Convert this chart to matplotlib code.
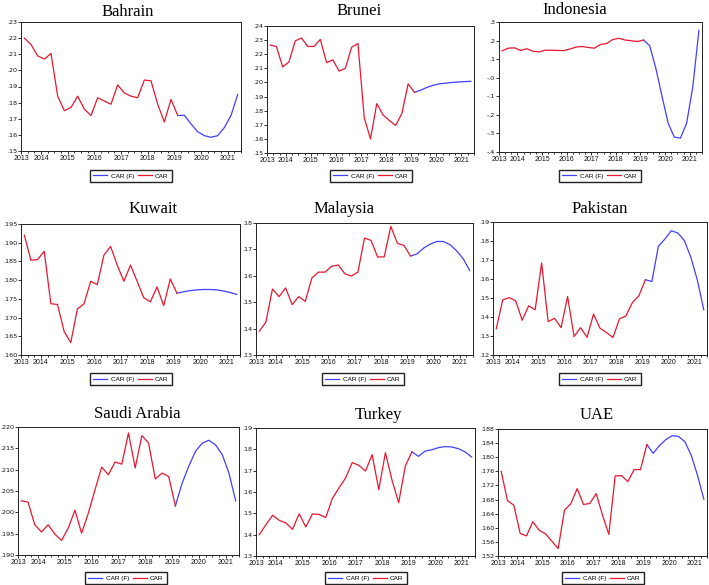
import numpy as np
import matplotlib
matplotlib.use("Agg")
import matplotlib.pyplot as plt
from matplotlib.lines import Line2D
from matplotlib.ticker import FixedLocator, FuncFormatter

# quarterly CAR, 2013Q2 .. 2021Q2 ; actual up to 2019Q1, forecast from 2019Q1 on
years = [2013, 2014, 2015, 2016, 2017, 2018, 2019, 2020, 2021]

car_bahrain = [.220, .216, .209, .207, .2105, .184, .175, .177, .184, .176, .172, .183,
               .181, .179, .191, .186, .184, .183, .194, .1935, .179, .168, .182, .172]
carf_bahrain = [.172, .1722, .1668, .162, .1595, .1585, .1595, .1645, .172, .185]

car_brunei = [.2265, .2255, .211, .2145, .2295, .2315, .2255, .2255, .2305, .214, .216, .208,
              .210, .225, .2275, .175, .160, .185, .177, .173, .1695, .178, .199, .193]
carf_brunei = [.193, .1945, .1965, .198, .199, .1995, .200, .2003, .2006, .2008]

car_indonesia = [.145, .159, .161, .147, .156, .143, .139, .148, .148, .147, .146, .154,
                 .165, .168, .163, .159, .179, .184, .206, .212, .203, .199, .195, .203]
carf_indonesia = [.203, .172, .05, -.10, -.245, -.32, -.325, -.245, -.05, .255]

car_kuwait = [.1920, .1853, .1855, .1877, .1737, .1735, .1663, .1633, .1723, .1737, .1797, .1788,
              .1867, .1890, .1840, .1797, .1840, .1797, .1753, .1742, .1782, .1732, .1803, .1765]
carf_kuwait = [.1765, .1769, .1772, .1774, .1775, .1775, .1774, .1771, .1767, .1762]

car_malaysia = [.139, .1424, .155, .1521, .1554, .1491, .1521, .1503, .1592, .1614, .1614, .1636,
                .1641, .1608, .1599, .1614, .1743, .1734, .1671, .1672, .1787, .1723, .1715, .1675]
carf_malaysia = [.1675, .1683, .1705, .172, .173, .173, .1718, .1695, .1665, .162]

car_pakistan = [.1338, .149, .1502, .1485, .1383, .1459, .1438, .1684, .1376, .1393, .1344, .1508,
                .1297, .1344, .1293, .1415, .1341, .1318, .1292, .139, .1406, .1476, .1512, .1596]
carf_pakistan = [.1596, .1587, .1772, .181, .1854, .1842, .1803, .1715, .1596, .1438]

car_saudi = [.2027, .2024, .1971, .1954, .1971, .1949, .1934, .1963, .2005, .1951, .1998, .2053,
             .2106, .2088, .2118, .2113, .2186, .2104, .2180, .2162, .2078, .2092, .2084, .2015]
carf_saudi = [.2015, .2068, .2108, .2143, .2162, .2169, .2158, .2135, .2092, .2027]

car_turkey = [.140, .1447, .1491, .1467, .1455, .1425, .1498, .1436, .1497, .1495, .148, .1569,
              .1619, .1666, .1738, .1725, .1698, .1775, .1611, .1784, .1655, .155, .1722, .1788]
carf_turkey = [.1788, .1767, .1792, .1798, .1808, .1813, .1811, .1803, .1788, .1764]

car_uae = [.176, .1677, .1664, .1584, .1577, .1617, .1593, .1583, .1562, .1541, .165, .1668,
           .1711, .1666, .1669, .1697, .1636, .1581, .1747, .1748, .1731, .1765, .1765, .1836]
carf_uae = [.1836, .1811, .1833, .185, .1861, .1859, .1844, .1806, .1749, .1681]

RED = "#e8172f"
BLUE = "#4040ff"
W, H = 709, 585

# name, actual, forecast, y range, y step, decimals, axes box px (l, t, r, b), title xy px, legend xy px
panels = [
    ("Bahrain", car_bahrain, carf_bahrain, (.15, .23), .01, 2, (21, 22, 241, 151), (128, 12), (131, 176)),
    ("Brunei", car_brunei, carf_brunei, (.15, .24), .01, 2, (267, 26, 474, 153), (359, 11), (371, 176)),
    ("Indonesia", car_indonesia, carf_indonesia, (-.4, .3), .1, 1, (499, 22, 702, 152), (575, 10), (600, 176)),
    ("Kuwait", car_kuwait, carf_kuwait, (.160, .195), .005, 3, (21, 224, 240, 355), (153, 209), (131, 379)),
    ("Malaysia", car_malaysia, carf_malaysia, (.13, .18), .01, 2, (256, 223, 473, 355), (344, 209), (363, 379)),
    ("Pakistan", car_pakistan, carf_pakistan, (.12, .19), .01, 2, (493, 222, 707, 355), (600, 209), (600, 379)),
    ("Saudi Arabia", car_saudi, carf_saudi, (.190, .220), .005, 3, (18, 427, 239, 555), (137, 414), (126, 578)),
    ("Turkey", car_turkey, carf_turkey, (.13, .19), .01, 2, (256, 428, 475, 556), (379, 415), (366, 578)),
    ("UAE", car_uae, carf_uae, (.152, .188), .004, 3, (498, 429, 707, 556), (597, 415), (603, 578)),
]

fig = plt.figure(figsize=(W / 100, H / 100), dpi=100)
fig.patch.set_facecolor("white")


def strip_zero(dec):
    def f(v, pos):
        s = f"{v:.{dec}f}"
        if s.startswith("-0."):
            return "-" + s[2:]
        if s.startswith("0."):
            return s[1:]
        return s
    return f


for name, act, fc, (y0, y1), step, dec, (l, t, r, b), (tx, ty), (lx, ly) in panels:
    ax = fig.add_axes([l / W, 1 - b / H, (r - l) / W, (b - t) / H])
    n_act = len(act)
    xa = np.arange(n_act)
    xf = np.arange(n_act - 1, n_act - 1 + len(fc))
    ax.plot(xf, fc, color=BLUE, lw=0.9)
    ax.plot(xa, act, color=RED, lw=0.9)
    ax.set_xlim(-0.5, xf[-1] + 0.5)
    ax.set_ylim(y0, y1)

    yt = np.round(np.arange(y0, y1 + step / 2, step), 4)
    ax.yaxis.set_major_locator(FixedLocator(yt))
    ax.yaxis.set_major_formatter(FuncFormatter(strip_zero(dec)))

    ypos = [-0.5] + [2.5 + 4 * k for k in range(len(years) - 1)]
    ax.set_xticks(ypos)
    ax.set_xticklabels([str(y) for y in years])
    ax.set_xticks(np.arange(-0.5, xf[-1] + 1, 1), minor=True)

    ax.tick_params(axis="both", which="both", direction="out", length=2, width=0.6,
                   labelsize=5.0, pad=1.0, colors="#111111")
    ax.tick_params(axis="x", which="minor", length=1.5)
    ax.tick_params(axis="y", labelsize=4.6, pad=0.8)
    for lab in ax.get_xticklabels():
        lab.set_family("Liberation Sans")
    for lab in ax.get_yticklabels():
        lab.set_family("DejaVu Sans")
    for sp in ax.spines.values():
        sp.set_linewidth(0.7)
        sp.set_color("#222222")

    fig.text(tx / W, 1 - ty / H, name, ha="center", va="center",
             family="Liberation Serif", fontsize=12)

    handles = [Line2D([], [], color=BLUE, lw=0.9), Line2D([], [], color=RED, lw=0.9)]
    fig.legend(handles, ["CAR (F)", "CAR"], loc="center", ncol=2,
               bbox_to_anchor=(lx / W, 1 - ly / H),
               prop={"family": "Liberation Sans", "size": 4.6},
               frameon=True, fancybox=False, edgecolor="#222222", framealpha=1,
               handlelength=2.2, handletextpad=0.5, columnspacing=0.6,
               borderpad=0.5, borderaxespad=0)

fig.savefig("out.png", dpi=100)
